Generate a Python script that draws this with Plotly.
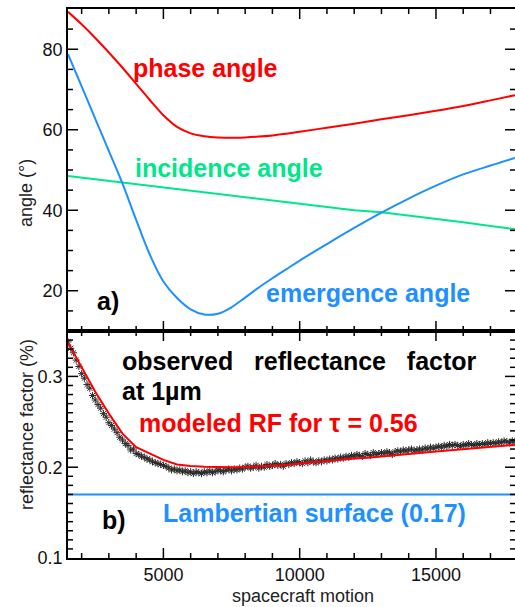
import plotly.graph_objects as go

# ---------------- data ----------------
ang_x = [1500, 2000, 2500, 3000, 3500, 4000, 4500, 5000, 5500, 6000, 6500, 7000,
         7500, 8000, 8500, 9000, 9500, 10000, 11000, 12000, 13000, 14000,
         15000, 16000, 17000, 17900]
phase = [89.3, 86.2, 82.8, 79.2, 75.4, 71.4, 67.4, 63.6, 60.7, 59.1, 58.4,
         58.1, 58.0, 58.1, 58.3, 58.6, 59.0, 59.5, 60.5, 61.5, 62.6, 63.6,
         64.7, 65.9, 67.3, 68.6]
incidence = [48.5, 48.1, 47.7, 47.3, 46.9, 46.5, 46.1, 45.6, 45.2, 44.8, 44.4,
             44.0, 43.6, 43.2, 42.8, 42.4, 42.0, 41.6, 40.8, 40.0, 39.5, 38.7,
             37.9, 37.0, 36.1, 35.3]
emergence = [78.8, 70.8, 62.7, 54.7, 46.6, 37.6, 29.0, 22.3, 18.2, 15.4, 14.1,
             14.3, 15.9, 18.3, 20.8, 23.1, 25.3, 27.5, 31.6, 35.6, 39.4, 42.9,
             46.1, 48.9, 51.1, 53.0]

model_x = [1500, 2000, 2500, 3000, 3500, 4000, 4500, 5000, 5500, 6000, 6500, 7000,
           7500, 8000, 8500, 9000, 9500, 10000, 10500, 11000, 11500, 12000, 12500,
           13000, 13500, 14000, 14500, 15000, 15500, 16000, 16500, 17000, 17500, 17900]
model_rf = [0.337, 0.310, 0.283, 0.259, 0.237, 0.222, 0.2150, 0.2080, 0.2030, 0.2012,
            0.2005, 0.2000, 0.2000, 0.2002, 0.2008, 0.2015, 0.2025, 0.2040, 0.2055,
            0.2070, 0.2085, 0.2095, 0.2105, 0.2120, 0.2135, 0.2148, 0.2160, 0.2172,
            0.2185, 0.2195, 0.2205, 0.2220, 0.2235, 0.2245]

obs_x = list(range(1500, 17901, 100))
obs_rf = [0.338, 0.331, 0.326, 0.318, 0.311, 0.303,
          0.298, 0.291, 0.287, 0.279, 0.274,
          0.269, 0.265, 0.259, 0.255, 0.249,
          0.246, 0.242, 0.238, 0.233, 0.230,
          0.226, 0.224, 0.219, 0.220, 0.215,
          0.214, 0.212, 0.211, 0.209, 0.208,
          0.206, 0.205, 0.204, 0.203, 0.202,
          0.201, 0.199, 0.197, 0.198, 0.196,
          0.197, 0.195, 0.196, 0.194, 0.195,
          0.193, 0.195, 0.194, 0.193, 0.195,
          0.194, 0.196, 0.194, 0.195, 0.197,
          0.196, 0.195, 0.197, 0.198, 0.196,
          0.198, 0.197, 0.199, 0.198, 0.200,
          0.201, 0.199, 0.200, 0.202, 0.199,
          0.201, 0.200, 0.203, 0.201, 0.202,
          0.204, 0.202, 0.203, 0.201, 0.204,
          0.203, 0.205, 0.204, 0.206, 0.205,
          0.204, 0.207, 0.205, 0.208, 0.206,
          0.205, 0.207, 0.206, 0.208, 0.207,
          0.209, 0.208, 0.210, 0.209, 0.211,
          0.210, 0.212, 0.211, 0.213, 0.212,
          0.214, 0.213, 0.212, 0.215, 0.214,
          0.213, 0.216, 0.214, 0.215, 0.216,
          0.215, 0.217, 0.216, 0.214, 0.217,
          0.218, 0.217, 0.219, 0.218, 0.219,
          0.220, 0.218, 0.219, 0.220, 0.219,
          0.221, 0.220, 0.222, 0.221, 0.222,
          0.223, 0.222, 0.224, 0.223, 0.225,
          0.224, 0.225, 0.224, 0.223, 0.225,
          0.224, 0.226, 0.225, 0.224, 0.226,
          0.225, 0.226, 0.225, 0.227, 0.226,
          0.227, 0.226, 0.228, 0.227, 0.229,
          0.228, 0.227, 0.229, 0.228]

lambert_x = [1500, 17900]
lambert_rf = [0.17, 0.17]

# axis ranges and tick values
X_RANGE = [1500, 17900]
Y1_RANGE = [10, 90]
Y2_RANGE = [0.1, 0.35]
x_major = [5000, 10000, 15000]
x_minor = [v for v in range(2000, 18000, 1000) if v % 5000]
y1_major = [20, 40, 60, 80]
y1_minor = [v for v in range(15, 90, 5) if v % 20]
y2_major = [0.2, 0.3]
y2_minor = [round(0.1 + 0.01 * i, 2) for i in range(1, 25) if i % 10]

RED = "#ff0000"
BLUE = "#1e90ff"
GREEN = "#00e68a"
FONT = "Liberation Sans, Arial, sans-serif"

fig = go.Figure()
fig.add_trace(go.Scatter(x=ang_x, y=phase, mode="lines", line=dict(color=RED, width=2),
                         xaxis="x", yaxis="y", line_shape="spline"))
fig.add_trace(go.Scatter(x=ang_x, y=incidence, mode="lines", line=dict(color=GREEN, width=2),
                         xaxis="x", yaxis="y"))
fig.add_trace(go.Scatter(x=ang_x, y=emergence, mode="lines", line=dict(color=BLUE, width=2),
                         xaxis="x", yaxis="y", line_shape="spline"))

fig.add_trace(go.Scatter(x=lambert_x, y=lambert_rf, mode="lines", line=dict(color=BLUE, width=2),
                         xaxis="x2", yaxis="y2"))
fig.add_trace(go.Scatter(x=obs_x, y=obs_rf, mode="markers",
                         marker=dict(symbol="asterisk-open", size=6, color="#2a2a2a",
                                     line=dict(color="#2a2a2a", width=1)),
                         xaxis="x2", yaxis="y2"))
fig.add_trace(go.Scatter(x=model_x, y=model_rf, mode="lines", line=dict(color=RED, width=2),
                         xaxis="x2", yaxis="y2"))

# inward tick marks as pixel-sized line shapes anchored on the axis edges
MAJ, MIN = 10, 5
tick_line = dict(color="black", width=1.5)
for xr, yr, yrange, ymaj, ymin in (("x", "y", Y1_RANGE, y1_major, y1_minor),
                                   ("x2", "y2", Y2_RANGE, y2_major, y2_minor)):
    for edge, sign in ((yrange[0], 1), (yrange[1], -1)):
        for vals, ln in ((x_major, MAJ), (x_minor, MIN)):
            for v in vals:
                fig.add_shape(type="line", xref=xr, yref=yr, ysizemode="pixel", yanchor=edge,
                              x0=v, x1=v, y0=0, y1=sign * ln, line=tick_line)
    for edge, sign in ((X_RANGE[0], 1), (X_RANGE[1], -1)):
        for vals, ln in ((ymaj, MAJ), (ymin, MIN)):
            for v in vals:
                fig.add_shape(type="line", xref=xr, yref=yr, xsizemode="pixel", xanchor=edge,
                              y0=v, y1=v, x0=0, x1=sign * ln, line=tick_line)

split = 227 / 549

axis_common = dict(showline=True, linecolor="black", linewidth=1.5, mirror=True,
                   ticks="", showgrid=False, zeroline=False,
                   tickfont=dict(family=FONT, size=18, color="#111111"))

fig.update_layout(
    template="none",
    width=515, height=607,
    margin=dict(l=68, r=0, t=9, b=49),
    paper_bgcolor="white", plot_bgcolor="white",
    showlegend=False,
    xaxis=dict(domain=[0, 1], range=X_RANGE, anchor="y", showticklabels=False,
               tickvals=x_major, **axis_common),
    yaxis=dict(domain=[split, 1], range=Y1_RANGE, anchor="x", tickvals=y1_major,
               **axis_common),
    xaxis2=dict(domain=[0, 1], range=X_RANGE, anchor="y2", tickvals=x_major,
                tickformat="d", **axis_common),
    yaxis2=dict(domain=[0, split], range=Y2_RANGE, anchor="x2", tickvals=[0.1, 0.2, 0.3],
                tickformat=".1f", **axis_common),
)


def ann(text, x, y, color, size=25, xref="x", yref="y", bold=True, **kw):
    t = f"<b>{text}</b>" if bold else text
    fig.add_annotation(text=t, x=x, y=y, xref=xref, yref=yref, showarrow=False,
                       xanchor=kw.pop("xanchor", "left"), yanchor=kw.pop("yanchor", "middle"),
                       font=dict(family=FONT, size=size, color=color), **kw)


# top panel labels
ann("phase angle", 3800, 75.3, RED)
ann("incidence angle", 3870, 50.5, GREEN)
ann("emergence angle", 8690, 19.4, BLUE)
ann("a)", 2490, 17.5, "black")
# bottom panel labels
ann("observed\u00a0\u00a0 reflectance\u00a0\u00a0 factor", 3400, 0.317, "black", xref="x2", yref="y2")
ann("at 1µm", 3400, 0.284, "black", xref="x2", yref="y2")
ann("modeled RF for τ = 0.56", 4020, 0.2487, RED, xref="x2", yref="y2")
ann("Lambertian surface (0.17)", 4910, 0.1496, BLUE, xref="x2", yref="y2")
ann("b)", 2674, 0.1419, "black", xref="x2", yref="y2")

# axis titles
ann("angle (°)", (26 - 68) / 447, (558 - 193) / 549, "#222222", size=18, xref="paper",
    yref="paper", bold=False, xanchor="center", textangle=-90)
ann("reflectance factor (%)", (27 - 68) / 447, (558 - 425) / 549, "#222222", size=18,
    xref="paper", yref="paper", bold=False, xanchor="center", textangle=-90)
ann("spacecraft motion", (303 - 68) / 447, (558 - 596) / 549, "#222222", size=18,
    xref="paper", yref="paper", bold=False, xanchor="center")

fig.write_html("out.html", config={"displayModeBar": False},
               post_script="document.body.style.margin='0';document.body.style.padding='0';")
